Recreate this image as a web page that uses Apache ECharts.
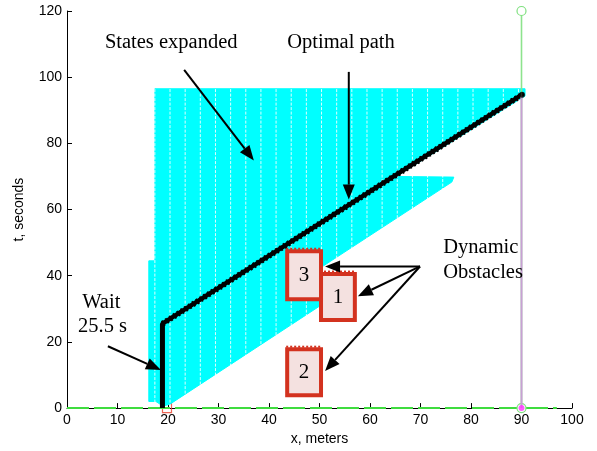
<!DOCTYPE html>
<html>
<head>
<meta charset="utf-8">
<script src="https://cdn.jsdelivr.net/npm/echarts@6/dist/echarts.min.js"></script>
<style>
  html, body { margin: 0; padding: 0; background: #ffffff; }
  #chart { width: 597px; height: 451px; }
</style>
</head>
<body>
<div id="chart"></div>
<script>
// ---- Search result: region of expanded states (x in metres, t in seconds) ----
const expandedStrip = [[16.2, 2.0], [17.4, 2.0], [17.4, 44.5], [16.2, 44.5]];
const expandedRegion = [
  [17.4, 2.2], [17.4, 96.5], [90.7, 96.5], [90.7, 94.3], [65.2, 70.0],
  [76.6, 69.8], [76.2, 68.3], [50.8, 43.0], [50.2, 43.0], [50.2, 31.0],
  [20.4, 1.2], [19.0, 0.6]
];
// column separators inside the expanded set
const columnEdges = [17.4, 20.4, 23.4, 26.4, 29.4, 32.4, 35.4, 38.4, 41.4, 44.4, 47.4, 50.4,
  53.4, 56.4, 59.4, 62.4, 65.4, 68.4, 71.4, 74.4, 77.4, 80.4, 83.4, 86.4, 89.4];
const columnTop = 96.5;

// ---- Dynamic obstacles ----
const obstacleId = ['1', '2', '3'];
const obstacleX0 = [50.3, 43.6, 43.6];
const obstacleX1 = [57.0, 50.3, 50.3];
const obstacleT0 = [26.6, 3.9, 32.9];
const obstacleT1 = [40.5, 17.8, 47.4];

// ---- Optimal path: wait at the start, then drive to the goal ----
const waitX = 18.9;
const waitDuration = 25.5;
const pathGoal = [90.1, 94.7];

// ---- Goal column and start marker ----
const goalX = 90;
const goalT = [0, 120];
const goalArrivalT = 94.3;
const startMarker = [19.8, 0];

// ---- Annotations ----
const arrowFrom = [[23.2, 102.2], [55.8, 101.6], [8.1, 18.7], [69.9, 42.8], [69.9, 42.8], [69.9, 42.8]];
const arrowTo   = [[37.0, 74.8], [55.8, 63.0], [18.6, 11.5], [51.1, 42.8], [57.6, 33.8], [51.1, 11.2]];
const noteText = ['States expanded', 'Optimal path', 'Dynamic', 'Obstacles', 'Wait', '25.5 s'];
const noteAt   = [[7.5, 108.2], [43.6, 108.2], [74.5, 46.4], [74.5, 38.9], [3.0, 29.8], [2.2, 22.6]];

const SERIF = '"Liberation Serif", "Times New Roman", serif';
const SANS = '"Liberation Sans", Arial, sans-serif';

const chart = echarts.init(document.getElementById('chart'));

function single(renderItem, z) {
  return { type: 'custom', data: [[0, 0]], z: z, silent: true, clip: false, renderItem: renderItem };
}

const option = {
  animation: false,
  backgroundColor: '#ffffff',
  grid: { left: 67, right: 25, top: 11, bottom: 42 },
  xAxis: {
    type: 'value', min: 0, max: 100, interval: 10,
    name: 'x, meters', nameLocation: 'middle', nameGap: 23,
    nameTextStyle: { fontFamily: SANS, fontSize: 14, color: '#000' },
    axisLine: { lineStyle: { color: '#000', width: 1 } },
    axisTick: { inside: true, length: 5, lineStyle: { color: '#000' } },
    axisLabel: { fontFamily: SANS, fontSize: 14, color: '#000', margin: 5 },
    splitLine: { show: false }
  },
  yAxis: {
    type: 'value', min: 0, max: 120, interval: 20,
    name: 't, seconds', nameLocation: 'middle', nameGap: 41,
    nameTextStyle: { fontFamily: SANS, fontSize: 14, color: '#000' },
    axisLine: { show: true, lineStyle: { color: '#000', width: 1 } },
    axisTick: { inside: true, length: 5, lineStyle: { color: '#000' } },
    axisLabel: { fontFamily: SANS, fontSize: 14, color: '#000', margin: 5 },
    splitLine: { show: false }
  },
  series: [
    // start marker below the axis
    {
      type: 'scatter', z: 1, clip: false, silent: true,
      symbol: 'rect', symbolSize: 9,
      itemStyle: { color: 'rgba(0,0,0,0)', borderColor: '#e8402a', borderWidth: 1.2 },
      data: [startMarker]
    },
    // expanded states
    single(function (params, api) {
      const fill = { fill: '#00ffff', stroke: '#00ffff', lineWidth: 1 };
      return {
        type: 'group',
        children: [
          { type: 'polygon', shape: { points: expandedStrip.map(p => api.coord(p)) }, style: fill },
          { type: 'polygon', shape: { points: expandedRegion.map(p => api.coord(p)) }, style: fill }
        ]
      };
    }, 2),
    // white separators between state columns
    single(function (params, api) {
      const children = columnEdges.map(function (x) {
        const a = api.coord([x, 0.3]);
        const b = api.coord([x, columnTop]);
        return {
          type: 'line', shape: { x1: a[0], y1: a[1], x2: b[0], y2: b[1] },
          style: { stroke: '#ffffff', lineWidth: 1, lineDash: [3, 1.5], opacity: 0.85 }
        };
      });
      return { type: 'group', children: children };
    }, 3),
    // x-axis trace
    {
      type: 'line', z: 4, silent: true, symbol: 'none', clip: false,
      lineStyle: { color: '#3fdc3f', width: 2, type: [22, 5] },
      data: [[0, 0], [97, 0]]
    },
    // obstacles
    single(function (params, api) {
      const children = [];
      obstacleId.forEach(function (id, i) {
        const p0 = api.coord([obstacleX0[i], obstacleT1[i]]);
        const p1 = api.coord([obstacleX1[i], obstacleT0[i]]);
        children.push({
          type: 'rect',
          shape: { x: p0[0], y: p0[1], width: p1[0] - p0[0], height: p1[1] - p0[1] },
          style: { fill: '#f4e1e0', stroke: '#d3321f', lineWidth: 4 }
        });
        children.push({
          type: 'line',
          shape: { x1: p0[0] - 1, y1: p0[1] - 2.5, x2: p1[0] + 1, y2: p0[1] - 2.5 },
          style: { stroke: '#d3321f', lineWidth: 2, lineDash: [2, 2] }
        });
        children.push({
          type: 'text',
          style: {
            x: (p0[0] + p1[0]) / 2, y: (p0[1] + p1[1]) / 2,
            text: id, font: '21px ' + SERIF, fill: '#000',
            align: 'center', verticalAlign: 'middle'
          }
        });
      });
      return { type: 'group', children: children };
    }, 5),
    // optimal path: wait segment
    {
      type: 'line', z: 6, silent: true, symbol: 'none',
      lineStyle: { color: '#000', width: 5, cap: 'butt' },
      data: [[waitX, 0], [waitX, waitDuration]]
    },
    // optimal path: travel segment
    {
      type: 'line', z: 6, silent: true, symbol: 'none',
      lineStyle: { color: '#000', width: 4.5, cap: 'round' },
      data: [[waitX, waitDuration], pathGoal]
    },
    {
      type: 'line', z: 6, silent: true, symbol: 'none',
      lineStyle: { color: '#000', width: 6, type: [2, 2.5] },
      data: [[waitX, waitDuration], pathGoal]
    },
    // goal column
    {
      type: 'line', z: 7, silent: true, clip: false,
      symbol: 'circle', symbolSize: 9, showSymbol: true,
      itemStyle: { color: '#ffffff', borderColor: '#7fe07f', borderWidth: 1.2 },
      lineStyle: { color: '#8de38d', width: 1.6 },
      data: [[goalX, goalT[0]], [goalX, goalT[1]]]
    },
    {
      type: 'line', z: 8, silent: true, symbol: 'none',
      lineStyle: { color: '#c8a0d4', width: 2 },
      data: [[goalX, 0], [goalX, goalArrivalT]]
    },
    {
      type: 'scatter', z: 9, silent: true, clip: false,
      symbol: 'circle', symbolSize: 6,
      itemStyle: { color: '#ff33ff' },
      data: [[goalX, 0]]
    },
    {
      type: 'scatter', z: 9, silent: true, clip: false,
      symbol: 'circle', symbolSize: 6,
      itemStyle: { color: '#000' },
      data: [pathGoal]
    },
    // arrows and notes
    single(function (params, api) {
      const children = [];
      arrowFrom.forEach(function (f, i) {
        const a = api.coord(f);
        const b = api.coord(arrowTo[i]);
        const dx = b[0] - a[0], dy = b[1] - a[1];
        const len = Math.sqrt(dx * dx + dy * dy);
        const ux = dx / len, uy = dy / len;
        const headL = 15, headW = 6;
        const bx = b[0] - ux * headL, by = b[1] - uy * headL;
        children.push({
          type: 'line', shape: { x1: a[0], y1: a[1], x2: bx, y2: by },
          style: { stroke: '#000', lineWidth: 2 }
        });
        children.push({
          type: 'polygon',
          shape: { points: [[b[0], b[1]], [bx - uy * headW, by + ux * headW], [bx + uy * headW, by - ux * headW]] },
          style: { fill: '#000' }
        });
      });
      noteText.forEach(function (t, i) {
        const p = api.coord(noteAt[i]);
        children.push({
          type: 'text',
          style: { x: p[0], y: p[1] - 7, text: t, font: '20.5px ' + SERIF, fill: '#000', align: 'left', verticalAlign: 'middle' }
        });
      });
      return { type: 'group', children: children };
    }, 10)
  ]
};

chart.setOption(option);
</script>
</body>
</html>
